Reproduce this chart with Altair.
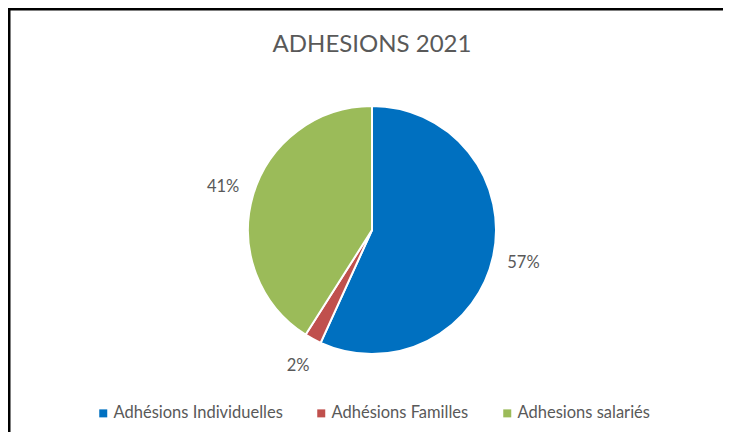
import altair as alt
import pandas as pd

categories = ["Adhésions Individuelles", "Adhésions Familles", "Adhesions salariés"]
values = [56.8, 2.2, 41.0]
labels = ["57%", "2%", "41%"]
orders = [0, 1, 2]
colors = ["#0070C0", "#C0504D", "#9BBB59"]
title_text = ["ADHESIONS 2021"]

df = pd.DataFrame({"cat": categories, "val": values, "label": labels, "ord": orders})

W, H = 700, 324
PAD = {"left": 14, "top": 60, "right": 1, "bottom": 40}
FONT = "Lato"
GREY = "#595959"

base = alt.Chart(df).encode(
    theta=alt.Theta("val:Q", stack=True),
    order=alt.Order("ord:Q", sort="ascending"),
)

arc = base.mark_arc(outerRadius=124, stroke="white", strokeWidth=2).encode(
    color=alt.Color(
        "cat:N",
        scale=alt.Scale(domain=categories, range=colors),
        sort=categories,
        legend=alt.Legend(
            title=None,
            orient="none",
            legendX=73,
            legendY=337,
            direction="horizontal",
            symbolType="square",
            symbolSize=64,
            symbolStrokeWidth=0,
            labelFont=FONT,
            labelFontSize=16.5,
            labelColor=GREY,
            labelOffset=2,
            labelLimit=400,
            columnPadding=30,
            padding=0,
        ),
    )
)

text = base.mark_text(radius=155, fontSize=16.5, font=FONT, color=GREY).encode(
    text="label:N", detail="cat:N"
)

title_df = pd.DataFrame({"t": title_text})
title = alt.Chart(title_df).mark_text(
    font=FONT, fontSize=24, color=GREY, align="center", baseline="middle"
).encode(text="t:N", x=alt.value(W / 2), y=alt.value(-23))

border_df = pd.DataFrame({"a": [0]})
left_border = alt.Chart(border_df).mark_rule(color="black", strokeWidth=3).encode(
    x=alt.value(-13), y=alt.value(-60), y2=alt.value(H + 40)
)
top_border = alt.Chart(border_df).mark_rule(color="black", strokeWidth=3).encode(
    x=alt.value(-14), x2=alt.value(W + 1), y=alt.value(-59)
)

chart = (
    alt.layer(arc, text, title, left_border, top_border)
    .properties(
        width=W,
        height=H,
        padding=PAD,
        autosize=alt.AutoSizeParams(type="none"),
    )
    .configure_view(stroke=None)
)

chart.save("out.html", embed_options={"renderer": "svg", "actions": False})
